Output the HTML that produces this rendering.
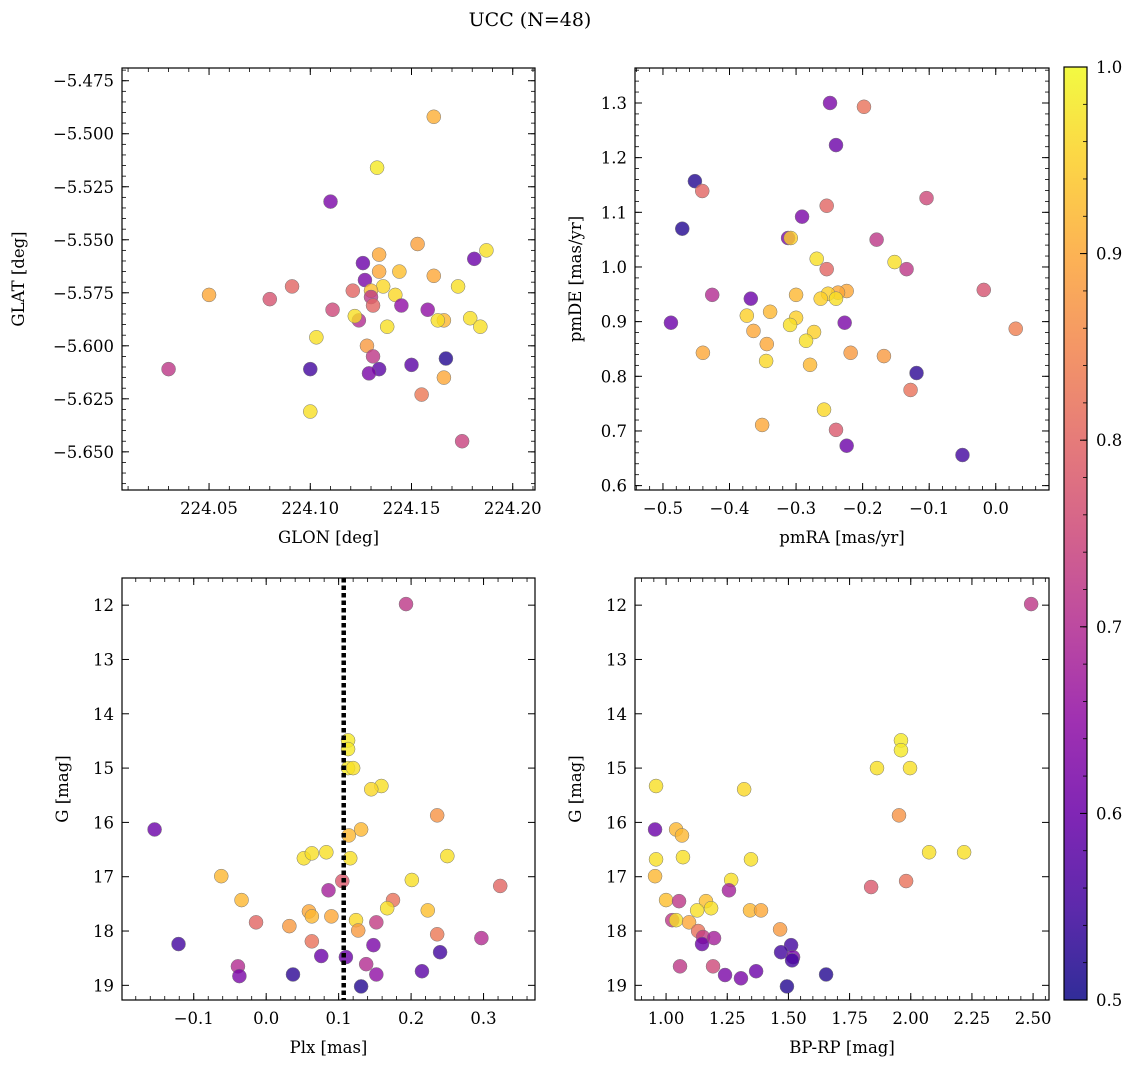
<!DOCTYPE html>
<html><head><meta charset="utf-8"><style>
html,body{margin:0;padding:0;background:#fff;}
svg{display:block;font-family:"DejaVu Serif","Liberation Serif",serif;}
</style></head><body>
<svg id="chart" width="1136" height="1067" viewBox="0 0 1136 1067" xmlns="http://www.w3.org/2000/svg">
<defs>
<linearGradient id="plasma" x1="0" y1="1" x2="0" y2="0">
<stop offset="0" stop-color="#0d0887"/><stop offset="0.1" stop-color="#41049d"/><stop offset="0.2" stop-color="#6a00a8"/><stop offset="0.3" stop-color="#8f0da4"/><stop offset="0.4" stop-color="#b12a90"/><stop offset="0.5" stop-color="#cc4778"/><stop offset="0.6" stop-color="#e16462"/><stop offset="0.7" stop-color="#f2844b"/><stop offset="0.8" stop-color="#fca636"/><stop offset="0.9" stop-color="#fcce25"/><stop offset="1" stop-color="#f0f921"/>
</linearGradient>
</defs>
<text x="530" y="26" text-anchor="middle" font-size="19">UCC (N=48)</text>
</svg>
<script>
// ---- data ----
const tlGlon=[224.161,224.133,224.110,224.187,224.153,224.134,224.126,224.181,224.134,224.144,224.161,224.127,224.050,224.080,224.091,224.121,224.136,224.142,224.173,224.130,224.130,224.111,224.131,224.145,224.158,224.166,224.124,224.122,224.138,224.163,224.179,224.184,224.103,224.128,224.131,224.134,224.129,224.150,224.167,224.100,224.030,224.166,224.155,224.100,224.175];
const tlGlat=[-5.492,-5.516,-5.532,-5.555,-5.552,-5.557,-5.561,-5.559,-5.565,-5.565,-5.567,-5.569,-5.576,-5.578,-5.572,-5.574,-5.572,-5.576,-5.572,-5.574,-5.577,-5.583,-5.581,-5.581,-5.583,-5.588,-5.588,-5.586,-5.591,-5.588,-5.587,-5.591,-5.596,-5.600,-5.605,-5.611,-5.613,-5.609,-5.606,-5.611,-5.611,-5.615,-5.623,-5.631,-5.645];
const tlProb=[0.91,0.98,0.62,0.97,0.89,0.9,0.6,0.6,0.9,0.93,0.9,0.62,0.9,0.77,0.8,0.8,0.96,0.96,0.97,0.93,0.72,0.75,0.8,0.65,0.65,0.92,0.7,0.97,0.97,0.97,0.97,0.97,0.97,0.88,0.72,0.58,0.62,0.58,0.52,0.55,0.72,0.9,0.83,0.97,0.74];

const trPmra=[-0.249,-0.198,-0.240,-0.452,-0.441,-0.104,-0.471,-0.254,-0.291,-0.312,-0.308,-0.179,-0.269,-0.152,-0.254,-0.134,-0.018,-0.224,-0.237,-0.252,-0.240,-0.263,-0.300,-0.426,-0.368,0.030,-0.488,-0.374,-0.339,-0.300,-0.309,-0.227,-0.273,-0.364,-0.285,-0.344,-0.440,-0.218,-0.168,-0.345,-0.279,-0.119,-0.128,-0.258,-0.351,-0.240,-0.224,-0.050];
const trPmde=[1.300,1.293,1.223,1.157,1.139,1.126,1.070,1.112,1.092,1.053,1.053,1.050,1.015,1.009,0.996,0.996,0.958,0.956,0.953,0.951,0.942,0.942,0.949,0.949,0.942,0.887,0.898,0.911,0.918,0.907,0.894,0.898,0.881,0.883,0.865,0.859,0.843,0.843,0.837,0.828,0.821,0.806,0.775,0.739,0.711,0.702,0.673,0.656];
const trProb=[0.62,0.82,0.6,0.52,0.8,0.75,0.52,0.8,0.62,0.62,0.95,0.72,0.97,0.97,0.8,0.72,0.77,0.9,0.9,0.95,0.97,0.95,0.92,0.7,0.6,0.84,0.6,0.95,0.92,0.95,0.97,0.62,0.95,0.9,0.97,0.9,0.9,0.88,0.88,0.96,0.92,0.53,0.82,0.96,0.9,0.78,0.6,0.55];

const blPlx=[0.193,0.113,0.113,0.113,0.120,0.159,0.145,-0.154,0.236,0.131,0.114,0.052,0.063,0.083,0.116,0.250,-0.062,0.201,0.323,0.105,0.086,-0.034,0.175,0.059,0.063,0.090,0.223,0.167,0.152,0.124,-0.014,0.032,0.127,0.236,0.297,0.063,-0.121,0.148,0.240,0.076,-0.039,0.110,0.138,-0.037,0.037,0.152,0.215,0.131];
const blG=[11.98,14.49,14.65,15.00,15.00,15.33,15.39,16.13,15.87,16.13,16.24,16.66,16.57,16.55,16.66,16.62,16.99,17.06,17.17,17.08,17.25,17.43,17.43,17.64,17.73,17.73,17.62,17.58,17.84,17.80,17.84,17.91,17.99,18.06,18.13,18.19,18.24,18.26,18.39,18.46,18.65,18.48,18.61,18.83,18.80,18.80,18.74,19.02];
const blProb=[0.72,0.98,0.98,0.98,0.97,0.97,0.96,0.6,0.87,0.92,0.92,0.97,0.97,0.97,0.97,0.97,0.92,0.97,0.8,0.78,0.68,0.92,0.82,0.9,0.92,0.9,0.93,0.97,0.73,0.96,0.8,0.88,0.88,0.83,0.7,0.82,0.55,0.62,0.55,0.6,0.7,0.6,0.7,0.62,0.53,0.65,0.58,0.52];
const plxMarker=[0.107];

const brBprp=[2.492,1.960,1.960,0.959,1.862,1.997,1.319,1.952,0.955,1.041,1.065,0.959,1.069,1.347,2.075,2.218,0.955,1.266,1.981,1.838,1.0,1.053,1.163,1.343,1.184,1.127,1.388,1.257,1.025,1.041,1.094,1.131,1.151,1.147,1.196,1.466,1.511,1.470,1.519,1.515,1.192,1.057,1.241,1.306,1.368,1.654,1.494];
const brG=[11.98,14.49,14.67,15.33,15.00,15.00,15.39,15.87,16.13,16.13,16.24,16.68,16.64,16.68,16.55,16.55,16.99,17.06,17.08,17.19,17.43,17.45,17.45,17.62,17.58,17.62,17.62,17.25,17.80,17.80,17.84,18.00,18.11,18.24,18.13,17.97,18.26,18.39,18.48,18.54,18.65,18.65,18.81,18.87,18.74,18.80,19.02];
const brProb=[0.72,0.98,0.98,0.97,0.97,0.97,0.96,0.87,0.6,0.92,0.92,0.97,0.97,0.97,0.97,0.97,0.92,0.97,0.82,0.78,0.93,0.72,0.93,0.92,0.97,0.97,0.9,0.68,0.72,0.97,0.9,0.82,0.73,0.6,0.68,0.88,0.55,0.55,0.62,0.55,0.75,0.72,0.62,0.62,0.6,0.52,0.52];

const tlXTicks=[224.05,224.10,224.15,224.20];
const tlYTicks=[-5.475,-5.500,-5.525,-5.550,-5.575,-5.600,-5.625,-5.650];
const trXTicks=[-0.5,-0.4,-0.3,-0.2,-0.1,0.0];
const trYTicks=[0.6,0.7,0.8,0.9,1.0,1.1,1.2,1.3];
const blXTicks=[-0.1,0.0,0.1,0.2,0.3];
const gTicks=[12,13,14,15,16,17,18,19];
const brXTicks=[1.00,1.25,1.50,1.75,2.00,2.25,2.50];
const cbTicks=[0.5,0.6,0.7,0.8,0.9,1.0];

// ---- rendering ----
const NS='http://www.w3.org/2000/svg';
const svg=document.getElementById('chart');
const FS=16.5;
function mk(tag,attrs,parent){const e=document.createElementNS(NS,tag);for(const k in attrs)e.setAttribute(k,attrs[k]);(parent||svg).appendChild(e);return e;}
const stops=[[0,13,8,135],[0.1,65,4,157],[0.2,106,0,168],[0.3,143,13,164],[0.4,177,42,144],[0.5,204,71,120],[0.6,225,100,98],[0.7,242,132,75],[0.8,252,166,54],[0.9,252,206,37],[1,240,249,33]];
function plasma(p){let t=Math.max(0,Math.min(1,(p-0.5)/0.5));for(let i=1;i<stops.length;i++){if(t<=stops[i][0]){const a=stops[i-1],b=stops[i];const f=(t-a[0])/(b[0]-a[0]);return 'rgb('+[1,2,3].map(j=>Math.round(a[j]+f*(b[j]-a[j]))).join(',')+')';}}return 'rgb(240,249,33)';}

function panel(cfg){
  const {name,x0,x1,y0,y1,xmin,xmax,ymin,ymax,xTicks,yTicks,xMinor,yMinor,xFmt,yFmt,xLabel,yLabel,xs,ys,ps}=cfg;
  const g=mk('g',{});
  
  
  const sx=v=>x0+(v-xmin)/(xmax-xmin)*(x1-x0);
  const sy=v=>y0+(v-ymax)/(ymin-ymax)*(y1-y0);
  const pts=mk('g',{},g);
  
  
  for(let i=0;i<Math.min(xs.length,ys.length);i++){
    const c=mk('circle',{cx:sx(xs[i]),cy:sy(ys[i]),r:7,fill:plasma(ps[i]),'fill-opacity':0.8,stroke:'#777','stroke-width':0.5},pts);
    
    
  }
  if(cfg.vline){for(const v of cfg.vline){const l=mk('line',{x1:sx(v),x2:sx(v),y1:y0,y2:y1,stroke:'#000','stroke-width':4.5,'stroke-dasharray':'4.5,3'},g);
    
    }}
  const fr=mk('rect',{x:x0,y:y0,width:x1-x0,height:y1-y0,fill:'none',stroke:'#000','stroke-width':1.2},g);
  
  
  const xs0=Math.ceil(xmin/xMinor-1e-6),xs1=Math.floor(xmax/xMinor+1e-6);
  for(let k=xs0;k<=xs1;k++){const X=sx(k*xMinor);mk('line',{x1:X,x2:X,y1:y1,y2:y1-4,stroke:'#000','stroke-width':0.8},g);mk('line',{x1:X,x2:X,y1:y0,y2:y0+4,stroke:'#000','stroke-width':0.8},g);}
  const ys0=Math.ceil(ymin/yMinor-1e-6),ys1=Math.floor(ymax/yMinor+1e-6);
  for(let k=ys0;k<=ys1;k++){const Y=sy(k*yMinor);mk('line',{x1:x0,x2:x0+4,y1:Y,y2:Y,stroke:'#000','stroke-width':0.8},g);mk('line',{x1:x1,x2:x1-4,y1:Y,y2:Y,stroke:'#000','stroke-width':0.8},g);}
  for(const v of xTicks){const X=sx(v);mk('line',{x1:X,x2:X,y1:y1,y2:y1-7,stroke:'#000','stroke-width':1},g);mk('line',{x1:X,x2:X,y1:y0,y2:y0+7,stroke:'#000','stroke-width':1},g);
    const t=mk('text',{x:X,y:y1+24,'text-anchor':'middle','font-size':FS},g);t.textContent=xFmt(v);
    
    }
  for(const v of yTicks){const Y=sy(v);mk('line',{x1:x0,x2:x0+7,y1:Y,y2:Y,stroke:'#000','stroke-width':1},g);mk('line',{x1:x1,x2:x1-7,y1:Y,y2:Y,stroke:'#000','stroke-width':1},g);
    const t=mk('text',{x:x0-8,y:Y+6,'text-anchor':'end','font-size':FS},g);t.textContent=yFmt(v);
    
    }
  const xl=mk('text',{x:(x0+x1)/2,y:y1+53,'text-anchor':'middle','font-size':FS},g);xl.textContent=xLabel;
  
  
  const yx=cfg.yLabelX;
  const yl=mk('text',{x:yx,y:(y0+y1)/2,'text-anchor':'middle','font-size':FS,transform:'rotate(-90 '+yx+' '+((y0+y1)/2)+')'},g);yl.textContent=yLabel;
  
  
}
const f=(d)=>v=>(v<0?'\u2212':'')+Math.abs(v).toFixed(d);

panel({name:'glon-glat-panel',x0:122,x1:535,y0:68,y1:490,xmin:224.007,xmax:224.211,ymin:-5.668,ymax:-5.469,xTicks:tlXTicks,yTicks:tlYTicks,xMinor:0.01,yMinor:0.005,xFmt:f(2),yFmt:f(3),xLabel:'GLON [deg]',yLabel:'GLAT [deg]',yLabelX:24,xs:tlGlon,ys:tlGlat,ps:tlProb});
panel({name:'proper-motion-panel',x0:635,x1:1049,y0:68,y1:490,xmin:-0.542,xmax:0.080,ymin:0.592,ymax:1.364,xTicks:trXTicks,yTicks:trYTicks,xMinor:0.02,yMinor:0.02,xFmt:f(1),yFmt:f(1),xLabel:'pmRA [mas/yr]',yLabel:'pmDE [mas/yr]',yLabelX:581,xs:trPmra,ys:trPmde,ps:trProb});
panel({name:'plx-g-panel',x0:122,x1:535,y0:578,y1:1000,xmin:-0.199,xmax:0.371,ymin:19.27,ymax:11.50,xTicks:blXTicks,yTicks:gTicks,xMinor:0.02,yMinor:0.2,xFmt:f(1),yFmt:v=>String(v),xLabel:'Plx [mas]',yLabel:'G [mag]',yLabelX:68,xs:blPlx,ys:blG,ps:blProb,vline:plxMarker});
panel({name:'cmd-panel',x0:635,x1:1049,y0:578,y1:1000,xmin:0.873,xmax:2.565,ymin:19.27,ymax:11.50,xTicks:brXTicks,yTicks:gTicks,xMinor:0.05,yMinor:0.2,xFmt:f(2),yFmt:v=>String(v),xLabel:'BP-RP [mag]',yLabel:'G [mag]',yLabelX:581,xs:brBprp,ys:brG,ps:brProb});

const cb=mk('g',{});


const cbx0=1064,cbx1=1087,cby0=67,cby1=1000;
mk('rect',{x:cbx0,y:cby0,width:cbx1-cbx0,height:cby1-cby0,fill:'url(#plasma)','fill-opacity':0.85},cb);
mk('rect',{x:cbx0,y:cby0,width:cbx1-cbx0,height:cby1-cby0,fill:'none',stroke:'#000','stroke-width':1.2},cb);
const cy=v=>cby1-(v-0.5)/0.5*(cby1-cby0);
for(let k=50;k<=100;k+=2){const Y=cy(k/100);mk('line',{x1:cbx1,x2:cbx1-4,y1:Y,y2:Y,stroke:'#000','stroke-width':0.8},cb);}
for(const v of cbTicks){const Y=cy(v);mk('line',{x1:cbx1,x2:cbx1-7,y1:Y,y2:Y,stroke:'#000','stroke-width':1},cb);
  const t=mk('text',{x:cbx1+9,y:Y+6,'font-size':FS},cb);t.textContent=v.toFixed(1);
  
  }
</script>
</body></html>
